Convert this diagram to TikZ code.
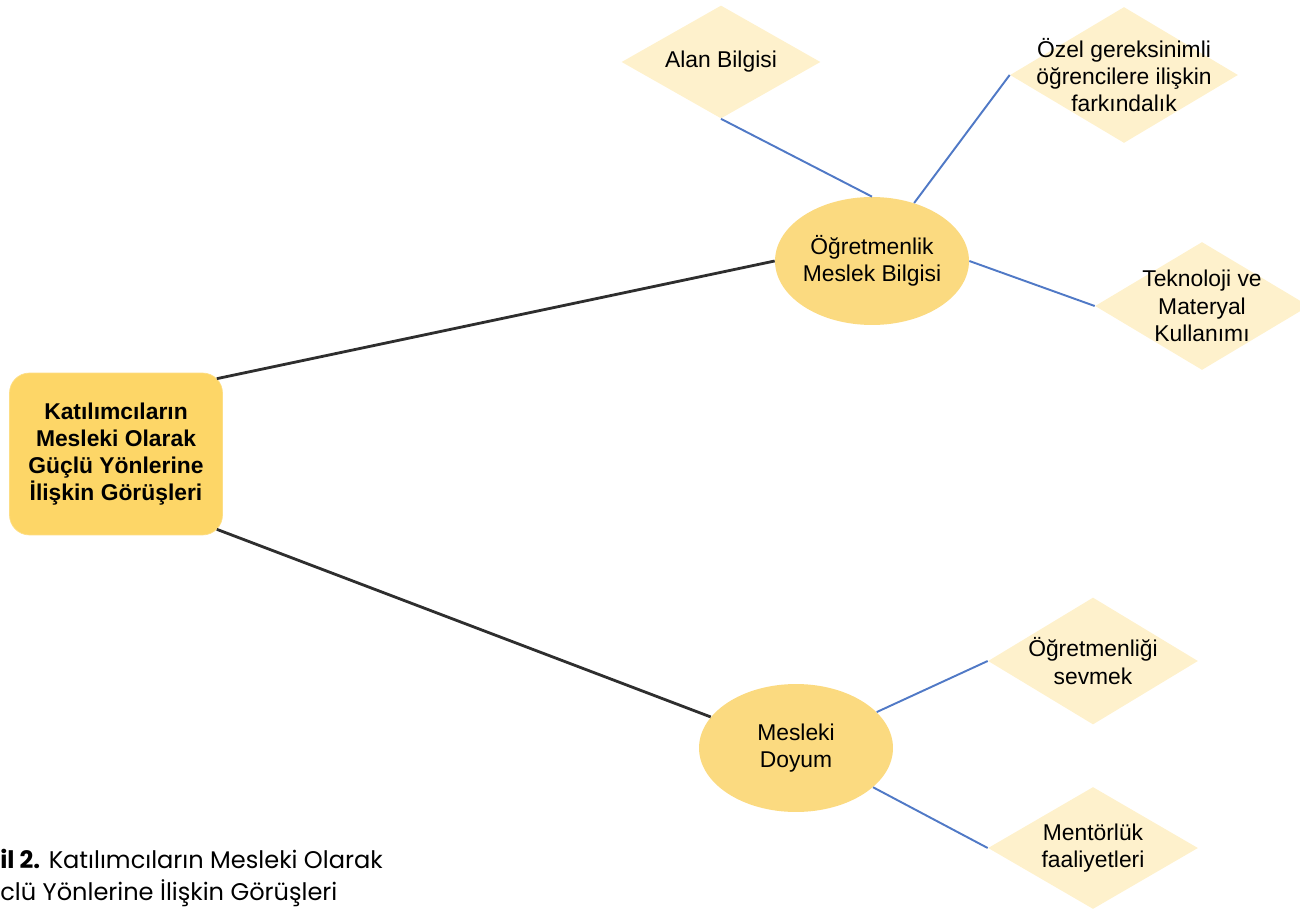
\documentclass[tikz,border=0pt]{standalone}
\usepackage{fontspec}
\setmainfont{Liberation Sans}
\newfontfamily\capfont{Poppins}
\usetikzlibrary{positioning,calc,shapes.geometric}
\definecolor{gold}{HTML}{FDD667}
\definecolor{sand}{HTML}{FBDA80}
\definecolor{cream}{HTML}{FEF1CC}
\definecolor{twigc}{HTML}{5079C6}
\definecolor{trunkc}{HTML}{2E2E2E}

\begin{document}
\begin{tikzpicture}[x=0.02cm, y=-0.02cm,
txt/.style   = {font=\fontsize{13}{15.5}\selectfont, align=center, inner sep=0pt},
root/.style  = {rectangle, rounded corners=0.4cm, fill=gold, draw=gold!80!white,
                minimum width=4.26cm, minimum height=3.24cm, inner sep=0pt},
theme/.style = {ellipse, fill=sand, minimum width=3.88cm, minimum height=2.56cm, inner sep=0pt},
leaf/.style  = {diamond, fill=cream, inner sep=0pt},
trunk/.style = {draw=trunkc, line width=1.6pt},
twig/.style  = {draw=twigc, line width=1.1pt}
                    ]
\useasboundingbox (0,0) rectangle (1300,911);
%
\node[root, label={[txt, font=\fontsize{13}{15.3}\selectfont\bfseries]center:{Katılımcıların\\Mesleki Olarak\\Güçlü Yönlerine\\İlişkin Görüşleri}}]
        (root) at (116,454) {};
\node[theme, label={[txt]center:{Öğretmenlik\\Meslek Bilgisi}}] (prof) at (872,261) {};
\node[theme, label={[txt]center:{Mesleki\\Doyum}}] (doyum) at (796,748) {};
%
\node[leaf, minimum width=3.98cm, minimum height=2.26cm, label={[txt]center:{Alan Bilgisi}}]
        (alan) at (721,62) {};
\node[leaf, minimum width=4.56cm, minimum height=2.72cm,
        label={[txt]center:{Özel gereksinimli\\öğrencilere ilişkin\\farkındalık}}] (ozel) at (1124,75) {};
\node[leaf, minimum width=4.28cm, minimum height=2.56cm,
        label={[txt]center:{Teknoloji ve\\Materyal\\Kullanımı}}] (tekno) at (1202,306) {};
\node[leaf, minimum width=4.2cm, minimum height=2.54cm,
        label={[txt]center:{Öğretmenliği\\sevmek}}] (ogr) at (1093,661) {};
\node[leaf, minimum width=4.2cm, minimum height=2.44cm,
        label={[txt]center:{Mentörlük\\faaliyetleri}}] (mentor) at (1093,848) {};
%
\draw[trunk] ($(root.north east)+(-6,6)$) -- (prof.west);
\draw[trunk] ($(root.south east)+(-6,-6)$) -- (doyum.160);
\foreach \a/\b in {prof.north/alan.south, prof.54/ozel.west, prof.east/tekno.west,
                   doyum.24/ogr.west, doyum.-27/mentor.west}
    \draw[twig] (\a) -- (\b);
%
\node[anchor=base west, inner sep=0pt, font=\capfont\fontsize{13.7}{15}\selectfont]
        (cap1) at (0,868) {\textbf{il 2.} Katılımcıların Mesleki Olarak};
\node[anchor=base west, inner sep=0pt, font=\capfont\fontsize{13.7}{15}\selectfont]
        (cap2) at (0,900) {clü Yönlerine İlişkin Görüşleri};
\end{tikzpicture}
\end{document}
